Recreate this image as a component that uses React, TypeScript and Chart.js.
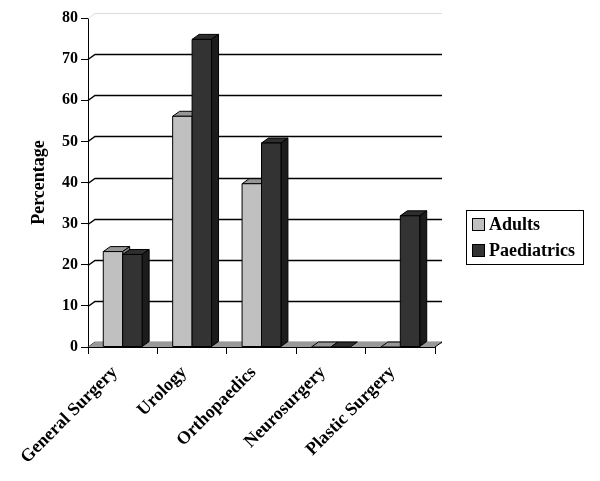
import React, { useEffect, useRef } from 'react';
import { Chart, registerables } from 'chart.js';

Chart.register(...registerables);

const categories = ['General Surgery', 'Urology', 'Orthopaedics', 'Neurosurgery', 'Plastic Surgery'];
const adults = [23.2, 56.1, 39.7, 0, 0];
const paediatrics = [22.5, 74.8, 49.6, 0, 31.9];
const seriesNames = ['Adults', 'Paediatrics'];
const yMin = 0;
const yMax = 80;
const yStep = 10;

const FONT = '"Liberation Serif", "Times New Roman", serif';
const DX = 7;
const DY = -5;
const faces = [
  { front: '#c0c0c0', top: '#969696', side: '#808080' },
  { front: '#333333', top: '#2e2e2e', side: '#1c1c1c' },
];

const threeD = {
  id: 'threeD',
  beforeDatasetsDraw(chart: any) {
    const { ctx, chartArea: a, scales } = chart;
    const x = scales.x;
    const y = scales.y;
    ctx.save();
    // back wall grid lines with side-wall connectors
    y.ticks.forEach((t: any) => {
      const py = Math.round(y.getPixelForValue(t.value)) + 0.5;
      const isTop = t.value === y.max;
      ctx.strokeStyle = isTop ? '#dcdcdc' : '#000';
      ctx.lineWidth = isTop ? 1 : 1.5;
      ctx.beginPath();
      ctx.moveTo(a.left, py);
      ctx.lineTo(a.left + DX, py + DY);
      ctx.lineTo(a.right + DX, py + DY);
      ctx.stroke();
    });
    // floor
    const by = y.getPixelForValue(0);
    ctx.fillStyle = '#999999';
    ctx.beginPath();
    ctx.moveTo(a.left, by);
    ctx.lineTo(a.right, by);
    ctx.lineTo(a.right + DX, by + DY);
    ctx.lineTo(a.left + DX, by + DY);
    ctx.closePath();
    ctx.fill();
    ctx.strokeStyle = '#000';
    ctx.lineWidth = 1;
    ctx.beginPath();
    ctx.moveTo(a.right, by);
    ctx.lineTo(a.right + DX, by + DY);
    ctx.stroke();

    // bars, category by category so the right bar hides the left bar's side
    const metas = chart.getSortedVisibleDatasetMetas();
    const n = x.ticks.length;
    ctx.lineWidth = 1;
    ctx.strokeStyle = '#000';
    ctx.lineJoin = 'miter';
    for (let i = 0; i < n; i++) {
      metas.forEach((meta: any, di: number) => {
        const el = meta.data[i];
        if (!el) return;
        const p = el.getProps(['x', 'y', 'base', 'width'], true);
        const l = p.x - p.width / 2;
        const r = p.x + p.width / 2;
        const top = p.y;
        const base = p.base;
        const f = faces[di % faces.length];
        // top face
        ctx.fillStyle = f.top;
        ctx.beginPath();
        ctx.moveTo(l, top);
        ctx.lineTo(r, top);
        ctx.lineTo(r + DX, top + DY);
        ctx.lineTo(l + DX, top + DY);
        ctx.closePath();
        ctx.fill();
        ctx.stroke();
        if (base - top > 0.5) {
          // side face
          ctx.fillStyle = f.side;
          ctx.beginPath();
          ctx.moveTo(r, top);
          ctx.lineTo(r + DX, top + DY);
          ctx.lineTo(r + DX, base + DY);
          ctx.lineTo(r, base);
          ctx.closePath();
          ctx.fill();
          ctx.stroke();
          // front face
          ctx.fillStyle = f.front;
          ctx.beginPath();
          ctx.rect(l, top, r - l, base - top);
          ctx.fill();
          ctx.stroke();
        }
      });
    }
    ctx.restore();
    return false;
  },
  afterDraw(chart: any) {
    const { ctx } = chart;
    ctx.save();
    ctx.strokeStyle = '#000';
    ctx.lineWidth = 1;
    ctx.strokeRect(466.5, 210.5, 117, 54);
    ctx.font = `bold 18px ${FONT}`;
    ctx.textBaseline = 'middle';
    ctx.textAlign = 'left';
    chart.data.datasets.forEach((ds: any, i: number) => {
      const yy = 218 + i * 26;
      ctx.fillStyle = faces[i].front;
      ctx.fillRect(472, yy, 12, 12);
      ctx.strokeRect(472.5, yy + 0.5, 12, 12);
      ctx.fillStyle = '#000';
      ctx.fillText(ds.label, 489, yy + 7);
    });
    ctx.restore();
  },
};

export default function App() {
  const ref = useRef<HTMLCanvasElement>(null);
  useEffect(() => {
    if (!ref.current) return;
    const chart = new Chart(ref.current, {
      type: 'bar',
      data: {
        labels: categories,
        datasets: [
          { label: seriesNames[0], data: adults, backgroundColor: faces[0].front, borderColor: '#000', borderWidth: 1 },
          { label: seriesNames[1], data: paediatrics, backgroundColor: faces[1].front, borderColor: '#000', borderWidth: 1 },
        ],
      },
      options: {
        responsive: false,
        animation: false,
        devicePixelRatio: 1,
        categoryPercentage: 0.56,
        barPercentage: 1,
        layout: { padding: { top: 18, right: 165, bottom: 0, left: 0 } },
        plugins: {
          legend: { display: false },
          tooltip: { enabled: false },
        },
        scales: {
          x: {
            grid: { offset: true, drawOnChartArea: false, drawTicks: true, tickLength: 7, color: '#000', lineWidth: 1 },
            border: { display: true, color: '#000', width: 1 },
            ticks: {
              maxRotation: 45,
              minRotation: 45,
              autoSkip: false,
              padding: 8,
              labelOffset: -8,
              color: '#000',
              font: { family: FONT, size: 18, weight: 'bold' },
            },
            afterFit: (s: any) => { s.height = 134; },
          },
          y: {
            min: yMin,
            max: yMax,
            ticks: {
              stepSize: yStep,
              padding: 3,
              color: '#000',
              font: { family: FONT, size: 16, weight: 'bold' },
            },
            grid: { drawOnChartArea: false, drawTicks: true, tickLength: 7, color: '#000', lineWidth: 1 },
            border: { display: true, color: '#000', width: 1 },
            title: {
              display: true,
              text: 'Percentage',
              color: '#000',
              font: { family: FONT, size: 18, weight: 'bold' },
              padding: { top: 29, bottom: 0 },
            },
            afterFit: (s: any) => { s.width = 88; },
          },
        },
      },
      plugins: [threeD],
    });
    return () => chart.destroy();
  }, []);
  return (
    <div style={{ position: 'absolute', left: 0, top: 0, width: 600, height: 481 }}>
      <canvas ref={ref} width={600} height={481} />
    </div>
  );
}
